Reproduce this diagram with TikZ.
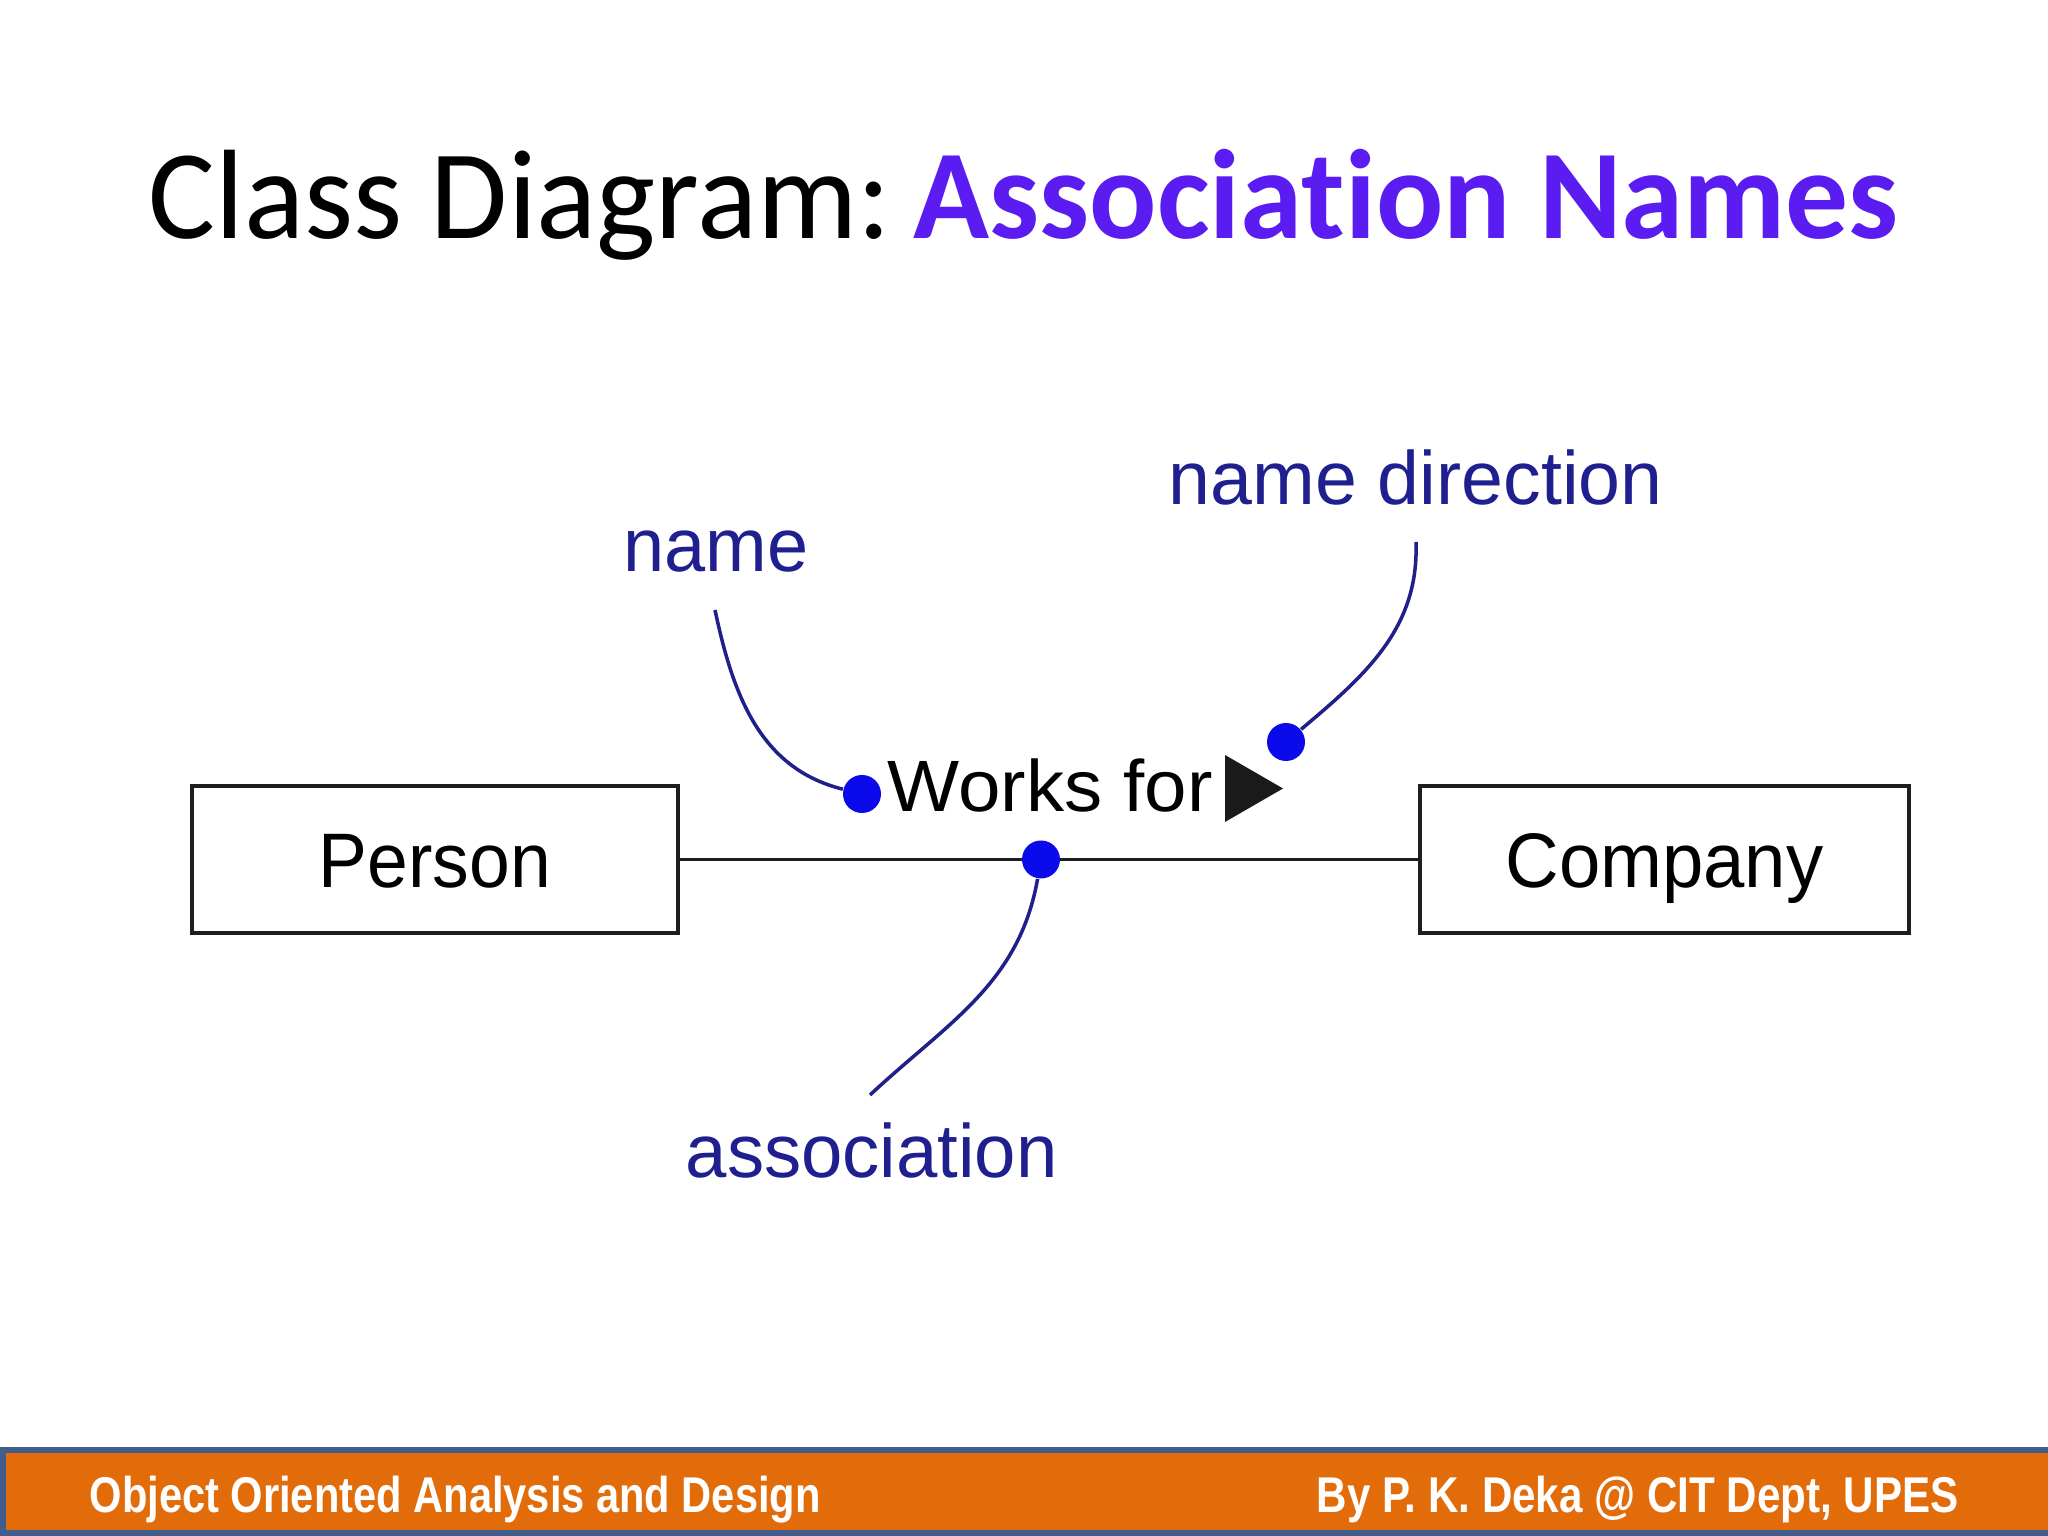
\documentclass[tikz,border=0pt]{standalone}
\usepackage{fontspec}
\usepackage{graphicx}
\setmainfont{Liberation Sans}
\newfontfamily\titlefont[Ligatures=NoCommon]{Carlito}
\newcommand\fitw[2]{\resizebox{#1}{\height}{#2}}
\definecolor{boxc}{HTML}{1E1E1E}
\definecolor{labc}{HTML}{1F1F8F}
\definecolor{dotc}{HTML}{0A0AEB}
\definecolor{curc}{HTML}{20208A}
\definecolor{tric}{HTML}{1A1A1A}
\definecolor{titc}{HTML}{5A1CF0}
\definecolor{footc}{HTML}{E36C0A}
\definecolor{footb}{HTML}{3F5E8C}
\begin{document}
\begin{tikzpicture}[x=1cm,y=1cm,
  classbox/.style={draw=boxc, line width=1.4pt, inner sep=0pt, minimum height=1.47cm,
    font=\fontsize{22}{26}\selectfont, text height=15.75pt, text depth=0pt},
  bluelabel/.style={text=labc, font=\fontsize{21.5}{26}\selectfont, inner sep=0pt, anchor=base west},
  dotstyle/.style={circle, fill=dotc, inner sep=0pt, minimum size=0.38cm},
  pointer/.style={draw=curc, line width=1pt},
  assoc/.style={draw=boxc, line width=1pt},
  foottext/.style={text=white, anchor=base west, inner sep=0pt, font=\bfseries\fontsize{14.3}{17}\selectfont}]
\useasboundingbox (0,0) rectangle (20.48,15.36);
\fill[white] (0,0) rectangle (20.48,15.36);

% title
\node[anchor=base west, inner sep=0pt, font=\titlefont\fontsize{36.2}{44}\selectfont] (title) at (1.48,12.97)
  {\fitw{17.50cm}{Class Diagram:\hspace{0.18em}\textcolor{titc}{\bfseries Association Names}}};

% classes
\node[classbox, minimum width=4.86cm] (person) at (4.35,6.765) {\fitw{2.32cm}{Person}};
\node[classbox, minimum width=4.89cm] (company) at (16.645,6.765) {\fitw{3.18cm}{Company}};
\draw[assoc] (person.east) -- (company.west);

% association name
\node[anchor=base west, inner sep=0pt, font=\fontsize{20.7}{24}\selectfont] (works) at (8.87,7.24) {\fitw{3.25cm}{Works for}};
\fill[tric] (12.25,7.81) -- (12.25,7.14) -- (12.83,7.475) -- cycle;

% dots
\node[dotstyle] (adot) at (10.41,6.765) {};
\node[dotstyle] (ndot) at (8.62,7.42) {};
\node[dotstyle] (ddot) at (12.86,7.94) {};

% labels
\node[bluelabel] (nlabel) at (6.23,9.64) {\fitw{1.85cm}{name}};
\node[bluelabel] (dlabel) at (11.68,10.31) {\fitw{4.94cm}{name direction}};
\node[bluelabel] (alabel) at (6.85,3.58) {\fitw{3.72cm}{association}};

\coordinate (nstart) at (7.15,9.26);
\coordinate (dstart) at (14.16,9.94);
\coordinate (aend) at (8.70,4.41);

\draw[pointer] (nstart) to[out=-78,in=166] (ndot);
\draw[pointer] (dstart) to[out=-88,in=40] (ddot);
\draw[pointer] (adot) to[out=-100,in=43] (aend);

% footer
\fill[footc] (0,0) rectangle (20.48,0.87);
\draw[footb, line width=1.5pt] (20.6,0.03) -- (0.03,0.03) -- (0.03,0.86) -- (20.6,0.86);
\node[foottext] (fleft) at (0.89,0.23) {\fitw{7.31cm}{Object Oriented Analysis and Design}};
\node[foottext] (fright) at (13.16,0.23) {\fitw{6.42cm}{By P. K. Deka @ CIT Dept, UPES}};
\end{tikzpicture}
\end{document}
